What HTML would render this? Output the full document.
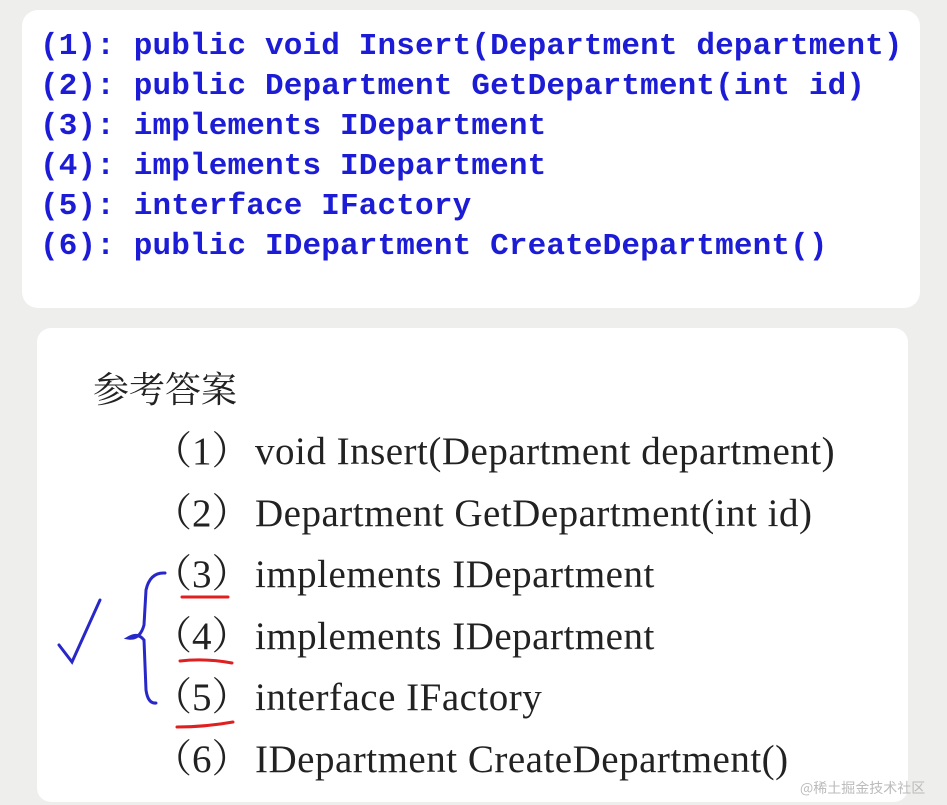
<!DOCTYPE html>
<html><head><meta charset="utf-8"><style>
body{margin:0;width:947px;height:805px;background:#eeeeec;position:relative;overflow:hidden}
.c1{position:absolute;left:22px;top:10px;width:898px;height:298px;background:#fff;border-radius:16px}
.c2{position:absolute;left:37px;top:328px;width:871px;height:474px;background:#fff;border-radius:14px}
.m{position:absolute;left:40px;font:bold 31px "Liberation Mono",monospace;color:#1c1cd6;white-space:pre;letter-spacing:0.15px}
.s{position:absolute;left:165px;font:39px "Liberation Serif","Noto Serif CJK SC",serif;color:#222;white-space:pre;letter-spacing:0.5px}
.s b{font-weight:normal;display:inline-block;width:90px;letter-spacing:0;margin-left:-12px;margin-right:12px}
</style></head><body>
<div class="c1"></div><div class="c2"></div>
<div class="m" style="top:29px">(1): public void Insert(Department department)</div>
<div class="m" style="top:69px">(2): public Department GetDepartment(int id)</div>
<div class="m" style="top:109px">(3): implements IDepartment</div>
<div class="m" style="top:149px">(4): implements IDepartment</div>
<div class="m" style="top:189px">(5): interface IFactory</div>
<div class="m" style="top:229px">(6): public IDepartment CreateDepartment()</div>
<div style="position:absolute;left:93px;top:362px;font:36px 'Noto Serif CJK SC',serif;color:#222">参考答案</div>
<div class="s" style="top:420px"><b>（1）</b>void Insert(Department department)</div>
<div class="s" style="top:482px"><b>（2）</b>Department GetDepartment(int id)</div>
<div class="s" style="top:543px"><b>（3）</b>implements IDepartment</div>
<div class="s" style="top:605px"><b>（4）</b>implements IDepartment</div>
<div class="s" style="top:666px"><b>（5）</b>interface IFactory</div>
<div class="s" style="top:728px"><b>（6）</b>IDepartment CreateDepartment()</div>
<svg style="position:absolute;left:0;top:0" width="947" height="805">
<g fill="none" stroke-linecap="round">
<path d="M59 645 L72 662 L100 600" stroke="#2828c8" stroke-width="3"/>
<path d="M165 573 Q150 572 146 590 L144 625 Q140 640 128 638 Q138 632 144 640 L146 690 Q148 704 156 703" stroke="#2828c8" stroke-width="3"/>
<path d="M182 597 L228 597" stroke="#e02020" stroke-width="3"/>
<path d="M180 661 Q205 658 232 663" stroke="#e02020" stroke-width="3"/>
<path d="M177 727 Q205 727 233 722" stroke="#e02020" stroke-width="3"/>
</g></svg>
<div style="position:absolute;left:800px;top:778px;font:14px 'Noto Sans CJK SC',sans-serif;color:#bbb">@稀土掘金技术社区</div>
</body></html>
